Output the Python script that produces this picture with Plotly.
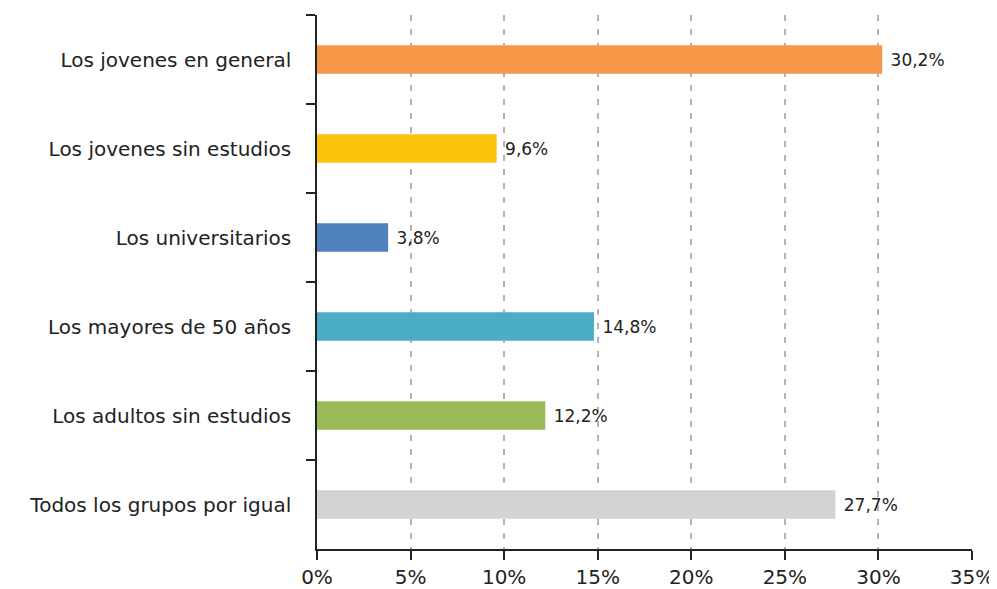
import plotly.graph_objects as go

categories = ["Los jovenes en general", "Los jovenes sin estudios", "Los universitarios",
              "Los mayores de 50 años", "Los adultos sin estudios", "Todos los grupos por igual"]
values = [30.2, 9.6, 3.8, 14.8, 12.2, 27.7]
colors = ["#F79646", "#FCC30B", "#4F81BD", "#4BACC6", "#9BBB59", "#D3D3D3"]
tick_vals = [0, 5, 10, 15, 20, 25, 30, 35]
tick_text = [f"{v}%" for v in tick_vals]
labels = [f"{v:.1f}%".replace(".", ",") for v in values]

FONT = "'DejaVu Sans', sans-serif"

fig = go.Figure(go.Bar(
    x=values, y=categories, orientation="h",
    marker=dict(color=colors, line=dict(width=0)),
    width=0.32,
    text=labels, texttemplate=" %{text}", textposition="outside", cliponaxis=False,
    textfont=dict(size=17, color="#222222", family=FONT),
    hoverinfo="skip",
))

# page body has an 8px margin, so the figure is offset by (8, 8) in the window
fig.update_layout(
    width=989, height=581,
    margin=dict(l=309, r=25, t=7, b=40, autoexpand=False),
    plot_bgcolor="white", paper_bgcolor="white",
    showlegend=False,
    font=dict(family=FONT, color="#222222"),
)
fig.update_xaxes(
    range=[0, 35], tickvals=tick_vals, ticktext=tick_text,
    showgrid=True, gridcolor="#B4B4B4", gridwidth=1.5, griddash="6px,8px",
    showline=True, linecolor="#222222", linewidth=1.5,
    ticks="outside", ticklen=9, tickcolor="#222222", tickwidth=1.5,
    tickfont=dict(size=20, family=FONT), ticklabelstandoff=0,
    zeroline=False, automargin=False,
)
fig.update_yaxes(
    categoryorder="array", categoryarray=categories, autorange="reversed",
    tickson="boundaries", ticks="outside", ticklen=9, tickcolor="#222222", tickwidth=1.5,
    showline=True, linecolor="#222222", linewidth=1.5, showgrid=False,
    tickfont=dict(size=20, family=FONT), ticklabelstandoff=20, automargin=False,
)

fig.write_html("out.html")
